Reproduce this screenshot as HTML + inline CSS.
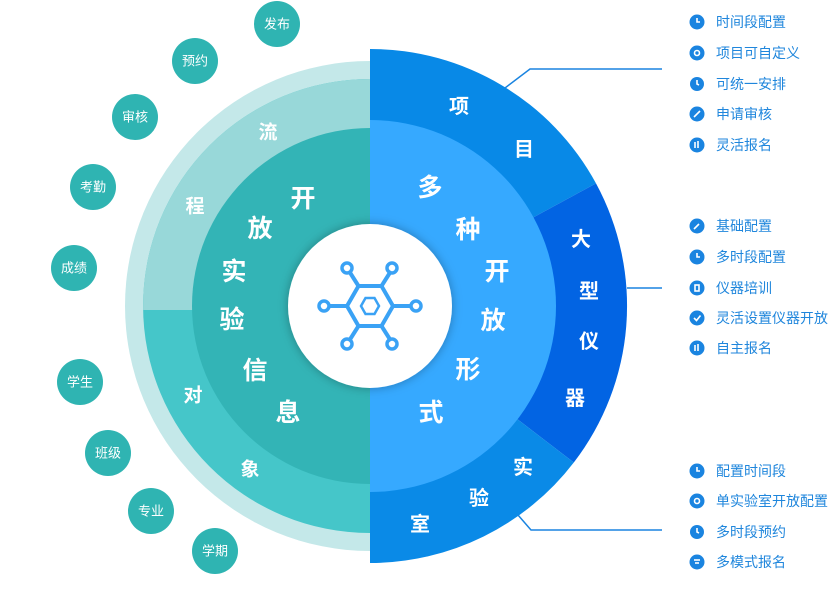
<!DOCTYPE html>
<html><head><meta charset="utf-8"><style>
html,body{margin:0;padding:0;background:#fff;width:828px;height:604px;overflow:hidden}
svg{display:block;font-family:"Liberation Sans","Noto Sans CJK SC",sans-serif}
.b{font-weight:bold;fill:#fff;text-anchor:middle;dominant-baseline:central}
.s{fill:#fff;font-size:13px;text-anchor:middle;dominant-baseline:central}
.l{fill:#1f86dc;font-size:14px;dominant-baseline:central}
</style></head><body>
<svg width="828" height="604" viewBox="0 0 828 604">
<defs>
<clipPath id="up"><rect x="0" y="0" width="370" height="310"/></clipPath>
<filter id="sh" x="-30%" y="-30%" width="160%" height="160%"><feDropShadow dx="0" dy="0" stdDeviation="5" flood-color="#000" flood-opacity="0.3"/></filter>
</defs>
<path d="M370,61 A245,245 0 0 0 370,551 Z" fill="#c4e8e9"/>
<path d="M370,79 A227,227 0 0 0 370,533 Z" fill="#45c6c9"/>
<path d="M370,79 A227,227 0 0 0 370,533 Z" fill="#98d8d9" clip-path="url(#up)"/>
<path d="M370,128 A178,178 0 0 0 370,484 Z" fill="#33b4b6"/>
<path d="M370,306 L370,49 A257,257 0 0 1 596,183.4 Z" fill="#0889e7"/>
<path d="M370,306 L596,183.4 A257,257 0 0 1 573.8,462.5 Z" fill="#0264e3"/>
<path d="M370,306 L573.8,462.5 A257,257 0 0 1 370,563 Z" fill="#0a8ae7"/>
<path d="M370,120 A186,186 0 0 1 370,492 Z" fill="#36a9ff"/>
<polyline points="505,88 530,69 662,69" fill="none" stroke="#1a84e0" stroke-width="1.5"/>
<line x1="627" y1="288" x2="662" y2="288" stroke="#1a84e0" stroke-width="1.5"/>
<polyline points="518,515 531,530 662,530" fill="none" stroke="#1a84e0" stroke-width="1.5"/>
<circle cx="370" cy="306" r="82" fill="#fff" filter="url(#sh)"/>
<g stroke="#3aa2f5" stroke-width="4" fill="none">
<polygon points="347,306 358.5,286 381.5,286 393,306 381.5,326 358.5,326"/>
<polygon points="361,306 365.5,298 374.5,298 379,306 374.5,314 365.5,314" stroke-width="2.5"/>
<line x1="358.5" y1="286" x2="349" y2="271"/><line x1="381.5" y1="286" x2="391" y2="271"/>
<line x1="347" y1="306" x2="328" y2="306"/><line x1="393" y1="306" x2="412" y2="306"/>
<line x1="358.5" y1="326" x2="349" y2="341"/><line x1="381.5" y1="326" x2="391" y2="341"/>
<circle cx="347" cy="268" r="5" stroke-width="3.5"/><circle cx="392" cy="268" r="5" stroke-width="3.5"/>
<circle cx="324" cy="306" r="5" stroke-width="3.5"/><circle cx="416" cy="306" r="5" stroke-width="3.5"/>
<circle cx="347" cy="344" r="5" stroke-width="3.5"/><circle cx="392" cy="344" r="5" stroke-width="3.5"/>
</g>
<g class="b" font-size="19">
<text x="268" y="133">流</text><text x="195" y="207">程</text><text x="193" y="396">对</text><text x="250" y="470">象</text>
</g>
<g class="b" font-size="25">
<text x="303" y="199">开</text><text x="260" y="229">放</text><text x="234" y="272">实</text><text x="232" y="320">验</text><text x="255" y="371">信</text><text x="288" y="413">息</text>
<text x="430" y="188">多</text><text x="468" y="230">种</text><text x="497" y="272">开</text><text x="493" y="321">放</text><text x="468" y="370">形</text><text x="431" y="413">式</text>
</g>
<g class="b" font-size="20">
<text x="459" y="107">项</text><text x="524" y="150">目</text><text x="581" y="240">大</text><text x="589" y="292">型</text><text x="589" y="342">仪</text><text x="575" y="399">器</text><text x="523" y="468">实</text><text x="479" y="499">验</text><text x="420" y="525">室</text>
</g>
<g fill="#2fb4b2">
<circle cx="277" cy="24" r="23"/><circle cx="195" cy="61" r="23"/><circle cx="135" cy="117" r="23"/><circle cx="93" cy="187" r="23"/><circle cx="74" cy="268" r="23"/><circle cx="80" cy="382" r="23"/><circle cx="108" cy="453" r="23"/><circle cx="151" cy="511" r="23"/><circle cx="215" cy="551" r="23"/>
</g>
<g class="s">
<text x="277" y="24">发布</text><text x="195" y="61">预约</text><text x="135" y="117">审核</text><text x="93" y="187">考勤</text><text x="74" y="268">成绩</text><text x="80" y="382">学生</text><text x="108" y="453">班级</text><text x="151" y="511">专业</text><text x="215" y="551">学期</text>
</g>
<g fill="#1a84e0">
<circle cx="697" cy="22" r="7.5"/><circle cx="697" cy="53" r="7.5"/><circle cx="697" cy="84" r="7"/><circle cx="697" cy="114" r="7.5"/><circle cx="697" cy="145" r="7.5"/>
<circle cx="697" cy="226" r="7.5"/><circle cx="697" cy="257" r="7.5"/><circle cx="697" cy="288" r="7.5"/><circle cx="697" cy="318" r="7.5"/><circle cx="697" cy="348" r="7.5"/>
<circle cx="697" cy="471" r="7.5"/><circle cx="697" cy="501" r="7.5"/><circle cx="697" cy="532" r="7"/><circle cx="697" cy="562" r="7.5"/>
</g>
<g fill="none" stroke="#fff" stroke-width="1.6">
<polyline points="697,18 697,22 700,22"/><circle cx="697" cy="53" r="2.5"/><polyline points="697,80 697,84 699,85"/><line x1="694" y1="117" x2="700" y2="111"/><line x1="695" y1="148" x2="695" y2="142"/><line x1="698" y1="148" x2="698" y2="141"/>
<line x1="694" y1="229" x2="699" y2="224"/><polyline points="697,253 697,257 700,257"/><rect x="695" y="285" width="4" height="6"/><polyline points="694,318 696.5,320.5 700.5,315.5"/><line x1="695" y1="351" x2="695" y2="345"/><line x1="698" y1="351" x2="698" y2="344"/>
<polyline points="697,467 697,471 700,471"/><circle cx="697" cy="501" r="2.5"/><polyline points="697,528 697,532 699,533"/><line x1="694" y1="560" x2="700" y2="560"/><line x1="695" y1="563" x2="699" y2="563"/>
</g>
<g class="l">
<text x="716" y="22">时间段配置</text><text x="716" y="53">项目可自定义</text><text x="716" y="84">可统一安排</text><text x="716" y="114">申请审核</text><text x="716" y="145">灵活报名</text>
<text x="716" y="226">基础配置</text><text x="716" y="257">多时段配置</text><text x="716" y="288">仪器培训</text><text x="716" y="318">灵活设置仪器开放</text><text x="716" y="348">自主报名</text>
<text x="716" y="471">配置时间段</text><text x="716" y="501">单实验室开放配置</text><text x="716" y="532">多时段预约</text><text x="716" y="562">多模式报名</text>
</g>
</svg>
</body></html>
